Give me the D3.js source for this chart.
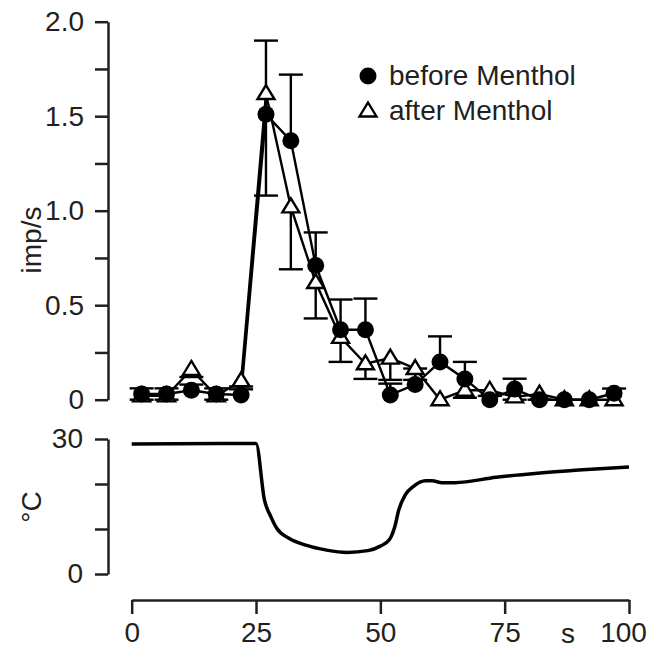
<!DOCTYPE html>
<html><head><meta charset="utf-8">
<script src="https://cdn.jsdelivr.net/npm/d3@7"></script>
<style>
body{margin:0;background:#fff;}
text{font-family:"Liberation Sans",Arial,sans-serif;fill:#231f20;}
</style></head>
<body><svg id="c" width="649" height="648"></svg>
<script>
// ---- data ----
const times = [2,7,12,17,22,27,32,37,42,47,52,57,62,67,72,77,82,87,92,97];
const beforeMenthol = [0.03,0.03,0.05,0.03,0.025,1.51,1.37,0.71,0.37,0.37,0.025,0.08,0.20,0.11,0.0,0.056,0.0,0.0,0.0,0.034];
const beforeErr = [0.03,0.03,0.03,0.03,0.03,0.39,0.35,0.175,0.16,0.165,0.06,0.085,0.135,0.09,0.0,0.055,0.0,0.0,0.0,0.025];
const afterMenthol = [0.02,0.02,0.16,0.02,0.10,1.62,1.02,0.62,0.33,0.19,0.22,0.165,0.0,0.05,0.05,0.015,0.03,0.0,0.0,0.0];
const afterErr = [0.02,0.02,0.04,0.02,0.03,0.54,0.33,0.19,0.13,0.08,0.115,0.06,0.0,0.04,0.03,0.015,0.03,0.0,0.0,0.0];
const tempTime = [0,25,26.7,28,29.2,31.7,35,39.2,43.3,47.5,50,51.8,52.9,53.7,55,56.6,59.1,60.4,62.4,65,73.3,81.6,89.9,100];
const tempValue = [28.9,29.0,16.4,12.7,10.1,7.9,6.4,5.3,4.8,5.2,6.2,7.6,10.5,14.2,17.6,19.4,20.7,20.7,20.3,20.3,21.5,22.4,23.1,23.8];
const xTicks = [0,25,50,75,100];
const rateTicks = [0,0.25,0.5,0.75,1,1.25,1.5,1.75,2];
const rateLabels = {0:"0",0.5:"0.5",1:"1.0",1.5:"1.5",2:"2.0"};
const tempTicks = [0,10,20,30];
const tempLabels = {0:"0",30:"30"};
const legendLabels = ["before Menthol","after Menthol"];

// ---- scales ----
const svg = d3.select("#c");
const x = d3.scaleLinear().domain([0,100]).range([131.7,629]);
const yR = d3.scaleLinear().domain([0,2]).range([399.7,21.7]);
const yT = d3.scaleLinear().domain([0,30]).range([574,439]);
const axisColor = "#231f20";
const fs = 28;

function styleAxis(g){
  g.selectAll("path,line").attr("stroke",axisColor).attr("stroke-width",2.5);
  g.selectAll("text").style("font-size",fs+"px").style("font-family","'Liberation Sans',Arial,sans-serif").attr("fill",axisColor);
}

// top y axis
svg.append("g").attr("transform","translate(108,0)")
  .call(d3.axisLeft(yR).tickValues(rateTicks).tickSize(13).tickSizeOuter(0).tickPadding(11)
    .tickFormat(d=>rateLabels[d]!==undefined?rateLabels[d]:""))
  .call(styleAxis);
// bottom y axis
svg.append("g").attr("transform","translate(108,0)")
  .call(d3.axisLeft(yT).tickValues(tempTicks).tickSize(13).tickSizeOuter(0).tickPadding(12)
    .tickFormat(d=>tempLabels[d]!==undefined?tempLabels[d]:""))
  .call(styleAxis);
// x axis
const xg = svg.append("g").attr("transform","translate(0,600)")
  .call(d3.axisBottom(x).tickValues(xTicks).tickSize(14).tickSizeOuter(0).tickPadding(8))
  .call(styleAxis);
xg.selectAll(".tick text").filter(d=>d===100).attr("dx",-6);
svg.selectAll(".domain").attr("fill","none");

svg.append("text").attr("x",568).attr("y",643).attr("text-anchor","middle").style("font-size",fs+"px").text("s");
svg.append("text").attr("transform","translate(41,240) rotate(-90)").attr("text-anchor","middle").style("font-size",fs+"px").text("imp/s");
svg.append("text").attr("transform","translate(41,507) rotate(-90)").attr("text-anchor","middle").style("font-size",fs+"px").text("°C");

// temperature trace
const tdata = tempTime.map((t,i)=>[t,tempValue[i]]);
svg.append("path").datum(tdata)
  .attr("d",d3.line().x(d=>x(d[0])).y(d=>yT(d[1])).curve(d3.curveMonotoneX))
  .attr("fill","none").attr("stroke","#000").attr("stroke-width",3.5).attr("stroke-linejoin","round");

// series
const before = times.map((t,i)=>({t,v:beforeMenthol[i],e:beforeErr[i]}));
const after = times.map((t,i)=>({t,v:afterMenthol[i],e:afterErr[i]}));
const line = d3.line().x(d=>x(d.t)).y(d=>yR(d.v));
[after,before].forEach(s=>{
  svg.append("path").datum(s).attr("d",line).attr("fill","none").attr("stroke","#000").attr("stroke-width",2.4);
});
const capW = 12;
function errBars(data,dir){
  const g = svg.append("g").attr("stroke","#000").attr("stroke-width",2.4);
  data.filter(d=>d.e>0).forEach(d=>{
    const y0 = yR(d.v), y1 = yR(d.v+dir*d.e), cx = x(d.t);
    g.append("line").attr("x1",cx).attr("x2",cx).attr("y1",y0).attr("y2",y1);
    g.append("line").attr("x1",cx-capW).attr("x2",cx+capW).attr("y1",y1).attr("y2",y1);
  });
}
errBars(after,-1);
errBars(before,1);
const tri = "M0,-8.5L8.5,5.5L-8.5,5.5Z";
svg.append("g").selectAll("path").data(after).join("path")
  .attr("transform",d=>`translate(${x(d.t)},${yR(d.v)})`).attr("d",tri)
  .attr("fill","#fff").attr("stroke","#000").attr("stroke-width",2.4).attr("stroke-linejoin","miter");
svg.append("g").selectAll("circle").data(before).join("circle")
  .attr("cx",d=>x(d.t)).attr("cy",d=>yR(d.v)).attr("r",8.5).attr("fill","#000");

// legend
const lg = svg.append("g");
lg.append("circle").attr("cx",368).attr("cy",76).attr("r",8.5).attr("fill","#000");
lg.append("path").attr("transform","translate(368,111)").attr("d",tri).attr("fill","#fff").attr("stroke","#000").attr("stroke-width",2.4);
lg.append("text").attr("x",389).attr("y",85).style("font-size",fs+"px").text(legendLabels[0]);
lg.append("text").attr("x",389).attr("y",120).style("font-size",fs+"px").text(legendLabels[1]);
</script></body></html>
